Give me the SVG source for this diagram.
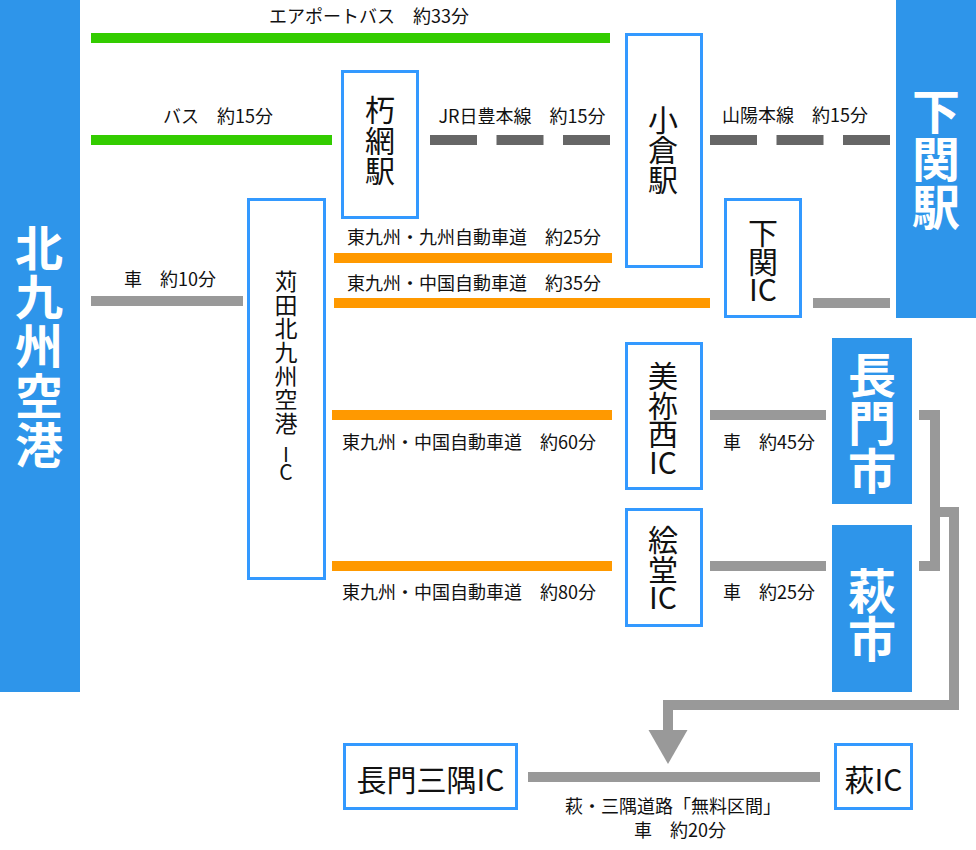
<svg xmlns="http://www.w3.org/2000/svg" width="976" height="850" viewBox="0 0 976 850">
<style>
  text { font-family: "Noto Sans CJK JP", "Noto Sans", sans-serif; fill: #111; }
  .lbl { font-size: 18px; text-anchor: middle; }
  .box { fill: #fff; stroke: #3399ff; stroke-width: 3; }
  .bt { font-size: 30px; text-anchor: middle; }
  .big { fill: #2e95ea; }
  .bigt { font-size: 48px; font-weight: bold; fill: #fff; text-anchor: middle; }
  .ln { fill: none; stroke-width: 10; stroke-linecap: butt; }
  .green { stroke: #33cc00; }
  .orange { stroke: #ff9900; }
  .gray { stroke: #999999; }
  .dash { stroke: #666666; stroke-dasharray: 47 19.5; }
</style>
<defs>
  <marker id="arr" markerUnits="userSpaceOnUse" markerWidth="36" markerHeight="40" refX="0" refY="19.5" orient="auto" overflow="visible">
    <path d="M0,0 L34,19.5 L0,39 Z" fill="#999999"/>
  </marker>
</defs>

<g id="connectors">
  <line class="ln green" x1="91" y1="38" x2="610" y2="38"/>
  <line class="ln green" x1="91" y1="140" x2="332" y2="140"/>
  <line class="ln dash" x1="430" y1="140" x2="610" y2="140"/>
  <line class="ln dash" x1="710" y1="140" x2="890" y2="140"/>
  <line class="ln gray" x1="91" y1="301" x2="243" y2="301"/>
  <line class="ln orange" x1="334" y1="258" x2="612" y2="258"/>
  <line class="ln orange" x1="334" y1="303" x2="710" y2="303"/>
  <line class="ln gray" x1="813" y1="303" x2="890" y2="303"/>
  <line class="ln orange" x1="332" y1="415" x2="612" y2="415"/>
  <line class="ln gray" x1="710" y1="415" x2="826" y2="415"/>
  <line class="ln orange" x1="332" y1="566" x2="612" y2="566"/>
  <line class="ln gray" x1="710" y1="566" x2="826" y2="566"/>
  <path class="ln gray" d="M919,415 H935 V566 H919"/>
  <path class="ln gray" d="M935,512 H954 V705 H668 V730" marker-end="url(#arr)"/>
  <line class="ln gray" x1="528" y1="777" x2="820" y2="777"/>

  <text class="lbl" x="369" y="23">エアポートバス　約33分</text>
  <text class="lbl" x="218" y="123">バス　約15分</text>
  <text class="lbl" x="522" y="123">JR日豊本線　約15分</text>
  <text class="lbl" x="795" y="122">山陽本線　約15分</text>
  <text class="lbl" x="170" y="286">車　約10分</text>
  <text class="lbl" x="474" y="244">東九州・九州自動車道　約25分</text>
  <text class="lbl" x="474" y="290">東九州・中国自動車道　約35分</text>
  <text class="lbl" x="469" y="449">東九州・中国自動車道　約60分</text>
  <text class="lbl" x="469" y="599">東九州・中国自動車道　約80分</text>
  <text class="lbl" x="769" y="449">車　約45分</text>
  <text class="lbl" x="769" y="599">車　約25分</text>
  <text class="lbl" x="673" y="813">萩・三隅道路「無料区間」</text>
  <text class="lbl" x="680" y="837">車　約20分</text>
</g>

<g id="kitakyushu-airport">
  <rect class="big" x="0" y="0" width="80" height="692"/>
  <text class="bigt" x="39"><tspan x="39" y="266">北</tspan><tspan x="39" y="315">九</tspan><tspan x="39" y="364">州</tspan><tspan x="39" y="414">空</tspan><tspan x="39" y="463">港</tspan></text>
</g>

<g id="shimonoseki-station">
  <rect class="big" x="896" y="0" width="80" height="318"/>
  <text class="bigt" x="936"><tspan x="936" y="129">下</tspan><tspan x="936" y="177">関</tspan><tspan x="936" y="225">駅</tspan></text>
</g>

<g id="nagato-city">
  <rect class="big" x="832" y="338" width="80" height="166"/>
  <text class="bigt" x="872"><tspan x="872" y="393">長</tspan><tspan x="872" y="441">門</tspan><tspan x="872" y="489">市</tspan></text>
</g>

<g id="hagi-city">
  <rect class="big" x="832" y="525" width="80" height="167"/>
  <text class="bigt" x="872"><tspan x="872" y="609">萩</tspan><tspan x="872" y="657">市</tspan></text>
</g>

<g id="kusami-station">
  <rect class="box" x="342.5" y="71.5" width="75" height="146"/>
  <text class="bt" x="380"><tspan x="380" y="121">朽</tspan><tspan x="380" y="152">網</tspan><tspan x="380" y="182">駅</tspan></text>
</g>

<g id="kokura-station">
  <rect class="box" x="626.5" y="34.5" width="75" height="232"/>
  <text class="bt" x="663"><tspan x="663" y="131">小</tspan><tspan x="663" y="161">倉</tspan><tspan x="663" y="191">駅</tspan></text>
</g>

<g id="kanda-ic">
  <rect class="box" x="248.5" y="199.5" width="76" height="379"/>
  <text style="font-size:23px;text-anchor:middle" x="286"><tspan x="286" y="290">苅</tspan><tspan x="286" y="314">田</tspan><tspan x="286" y="337">北</tspan><tspan x="286" y="361">九</tspan><tspan x="286" y="385">州</tspan><tspan x="286" y="408">空</tspan><tspan x="286" y="432">港</tspan><tspan x="286" y="462" style="font-size:20px">I</tspan><tspan x="286" y="480" style="font-size:21px">C</tspan></text>
</g>

<g id="shimonoseki-ic">
  <rect class="box" x="725.5" y="199.5" width="75" height="117"/>
  <text class="bt" x="763"><tspan x="763" y="244">下</tspan><tspan x="763" y="273">関</tspan><tspan x="763" y="301">IC</tspan></text>
</g>

<g id="mine-nishi-ic">
  <rect class="box" x="626.5" y="343.5" width="75" height="145"/>
  <text class="bt" x="663"><tspan x="663" y="387">美</tspan><tspan x="663" y="417">祢</tspan><tspan x="663" y="445">西</tspan><tspan x="663" y="474">IC</tspan></text>
</g>

<g id="edo-ic">
  <rect class="box" x="626.5" y="509.5" width="75" height="116"/>
  <text class="bt" x="663"><tspan x="663" y="551">絵</tspan><tspan x="663" y="581">堂</tspan><tspan x="663" y="609">IC</tspan></text>
</g>

<g id="nagato-misumi-ic">
  <rect class="box" x="344.5" y="744.5" width="172" height="64"/>
  <text class="bt" x="430.5" y="791">長門三隅IC</text>
</g>

<g id="hagi-ic">
  <rect class="box" x="835.5" y="744.5" width="76" height="64"/>
  <text class="bt" x="873.5" y="791">萩IC</text>
</g>
</svg>
